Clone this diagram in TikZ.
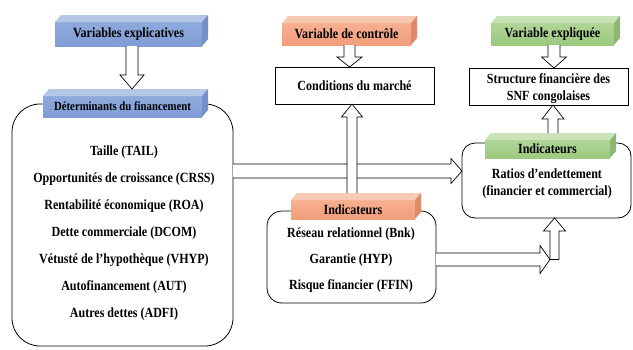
\documentclass[tikz,border=0pt]{standalone}
\usepackage{fontspec}
\setmainfont{Liberation Serif}[FakeStretch=0.86]
\usetikzlibrary{calc}
\definecolor{bluefront}{HTML}{8FAADC}
\definecolor{bluefrontB}{HTML}{7F9CD6}
\definecolor{bluetop}{HTML}{B4C7E7}
\definecolor{blueside}{HTML}{7390CC}
\definecolor{orfront}{HTML}{F6B092}
\definecolor{orfrontB}{HTML}{F29D7A}
\definecolor{ortop}{HTML}{F8C9B2}
\definecolor{orside}{HTML}{E08A68}
\definecolor{grfront}{HTML}{B0D598}
\definecolor{grfrontB}{HTML}{9CC97E}
\definecolor{grtop}{HTML}{C9E2B8}
\definecolor{grside}{HTML}{8DB872}
\tikzset{
  cube/.style={inner sep=0pt, outer sep=0pt, anchor=north west, align=center,
    font=\bfseries\fontsize{14}{17}\selectfont},
  plainbox/.style={draw=black, line width=0.8pt, fill=white, inner sep=0pt, outer sep=0pt,
    anchor=north west, align=center, font=\bfseries\fontsize{14}{17}\selectfont},
  roundbox/.style={draw=black, line width=0.8pt, fill=white, inner sep=0pt, outer sep=0pt, anchor=north west},
  listtext/.style={align=center, inner sep=0pt},
  barrow/.style={draw=black, fill=white, line width=0.7pt, line join=miter}
}
\newcommand\cubefaces[3]{%
  \fill[#2] (#1.north west) -- ++(6,-7) -- ($(#1.north east)+(6,-7)$) -- (#1.north east) -- cycle;
  \fill[#3] (#1.north east) -- ++(6,-7) -- ($(#1.south east)+(6,-7)$) -- (#1.south east) -- cycle;}
% vertical block arrow: #1 start, #2 tip, #3 shaft half width, #4 head half width, #5 head length
\newcommand\barrowdown[5]{%
  \draw[barrow] let \p1=(#1), \p2=(#2) in
    (\x1-#3pt,\y1) -- (\x1-#3pt,\y2+#5pt) -- (\x1-#4pt,\y2+#5pt) -- (\x1,\y2)
    -- (\x1+#4pt,\y2+#5pt) -- (\x1+#3pt,\y2+#5pt) -- (\x1+#3pt,\y1);}
\newcommand\barrowup[5]{%
  \draw[barrow] let \p1=(#1), \p2=(#2) in
    (\x1-#3pt,\y1) -- (\x1-#3pt,\y2-#5pt) -- (\x1-#4pt,\y2-#5pt) -- (\x1,\y2)
    -- (\x1+#4pt,\y2-#5pt) -- (\x1+#3pt,\y2-#5pt) -- (\x1+#3pt,\y1);}
\newcommand\barrowright[5]{%
  \draw[barrow] let \p1=(#1), \p2=(#2) in
    (\x1,\y1+#3pt) -- (\x2-#5pt,\y1+#3pt) -- (\x2-#5pt,\y1+#4pt) -- (\x2,\y1)
    -- (\x2-#5pt,\y1-#4pt) -- (\x2-#5pt,\y1-#3pt) -- (\x1,\y1-#3pt);}
\begin{document}
\begin{tikzpicture}[x=1pt,y=-1pt]
\useasboundingbox (0,0) rectangle (633,349);
\fill[white] (0,0) rectangle (633,349);

% ---------- left column ----------
\node[roundbox, rounded corners=28pt, minimum width=221pt, minimum height=242pt] (bigrect) at (12,104) {};
\node[cube, top color=bluefront, bottom color=bluefrontB, minimum width=147pt, minimum height=24pt] (varexp) at (55,22) {Variables explicatives};
\cubefaces{varexp}{bluetop}{blueside}
\node[cube, top color=bluefront, bottom color=bluefrontB, minimum width=159pt, minimum height=21pt,
      font=\bfseries\fontsize{12.5}{15}\selectfont] (determ) at (43,96) {Déterminants du financement};
\cubefaces{determ}{bluetop}{blueside}
\node[listtext, font=\bfseries\fontsize{14}{27}\selectfont] (detlist) at (124,233.5) {Taille (TAIL)\\
Opportunités de croissance (CRSS)\\
Rentabilité économique (ROA)\\
Dette commerciale (DCOM)\\
Vétusté de l’hypothèque (VHYP)\\
Autofinancement (AUT)\\
Autres dettes (ADFI)};

% ---------- middle column ----------
\node[cube, top color=orfront, bottom color=orfrontB, minimum width=129pt, minimum height=22pt] (varctrl) at (282,23) {Variable de contrôle};
\cubefaces{varctrl}{ortop}{orside}
\node[plainbox, minimum width=159pt, minimum height=37pt] (cond) at (275,67) {Conditions du marché};
\node[roundbox, rounded corners=15pt, minimum width=169pt, minimum height=92pt] (midrect) at (267,211) {};
\node[cube, top color=orfront, bottom color=orfrontB, minimum width=124pt, minimum height=19pt] (indO) at (291,200) {Indicateurs};
\cubefaces{indO}{ortop}{orside}
\node[listtext, font=\bfseries\fontsize{14}{26}\selectfont] (midlist) at (351,260) {Réseau relationnel (Bnk)\\
Garantie (HYP)\\
Risque financier (FFIN)};

% ---------- right column ----------
\node[cube, top color=grfront, bottom color=grfrontB, minimum width=123pt, minimum height=22pt] (varexpl) at (491,23) {Variable expliquée};
\cubefaces{varexpl}{grtop}{grside}
\node[roundbox, minimum width=159pt, minimum height=37pt] (struct) at (469,68) {};
\node[listtext, font=\bfseries\fontsize{14}{17}\selectfont] (structtxt) at ($(struct.center)+(0,2.5)$) {Structure financière des\\SNF congolaises};
\node[roundbox, rounded corners=13pt, minimum width=169pt, minimum height=75pt] (ratios) at (462,143) {};
\node[cube, top color=grfront, bottom color=grfrontB, minimum width=125pt, minimum height=18pt] (indG) at (485,140) {Indicateurs};
\cubefaces{indG}{grtop}{grside}
\node[listtext, font=\bfseries\fontsize{14}{17}\selectfont] (ratlist) at (547,184) {Ratios d’endettement\\(financier et commercial)};

% ---------- block arrows ----------
\coordinate (a1s) at ($(varexp.south)+(3.5,0)$);
\coordinate (a1t) at ($(a1s |- determ.north)+(0,-7)$);
\barrowdown{a1s}{a1t}{6}{12}{14}

\coordinate (a2s) at ($(varctrl.south)+(3,0)$);
\coordinate (a2t) at (a2s |- cond.north);
\barrowdown{a2s}{a2t}{5.5}{12.5}{10}

\coordinate (a3s) at ($(varexpl.south)+(1.5,0)$);
\coordinate (a3t) at (a3s |- struct.north);
\barrowdown{a3s}{a3t}{6}{12.5}{11}

\coordinate (a4s) at ($(indG.north)+(5.5,-7)$);
\coordinate (a4t) at (a4s |- struct.south);
\barrowup{a4s}{a4t}{5}{11}{14}

\coordinate (a6s) at ($(bigrect.east |- ratios.west)+(0,-9.5)$);
\coordinate (a6t) at (ratios.west |- a6s);
\barrowright{a6s}{a6t}{7}{12.5}{11}

\coordinate (a5s) at ($(indO.north)+(-1,-7)$);
\coordinate (a5t) at (a5s |- cond.south);
\barrowup{a5s}{a5t}{5}{10.5}{13}

\coordinate (a7s) at ($(midrect.east)+(0,2.5)$);
\coordinate (r8) at ($(ratios.south)+(8,0)$);
\coordinate (a8s) at (r8 |- a7s);
\coordinate (a7t) at ($(a8s)+(-4.5,0)$);
\coordinate (a8t) at (r8);
\draw[barrow] let \p1=(a8s), \p2=(a8t) in
  (\x1-4.5pt,\y1) -- (\x1-4.5pt,\y2-13pt) -- (\x1-11pt,\y2-13pt) -- (\x1,\y2)
  -- (\x1+11pt,\y2-13pt) -- (\x1+4.5pt,\y2-13pt) -- (\x1+4.5pt,\y1) -- cycle;
\barrowright{a7s}{a7t}{6.5}{14}{10}
\end{tikzpicture}
\end{document}
